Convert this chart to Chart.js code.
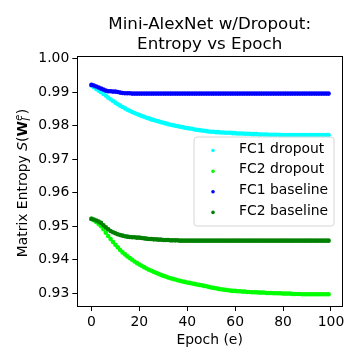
<!DOCTYPE html>
<html><head><meta charset="utf-8">
<script src="https://cdn.jsdelivr.net/npm/chart.js@4/dist/chart.umd.min.js"></script>
<style>html,body{margin:0;padding:0;background:#fff}#wrap{width:360px;height:360px}</style>
</head><body><div id="wrap"><canvas id="c" width="360" height="360"></canvas></div>
<script>
const titleLines = ['Mini-AlexNet w/Dropout:', 'Entropy vs Epoch'];
const xLabel = 'Epoch (e)';
const seriesNames = ['FC1 dropout', 'FC2 dropout', 'FC1 baseline', 'FC2 baseline'];
const seriesColors = ['#00ffff', '#00ff00', '#0000ff', '#008000'];
const xTicks = [0, 20, 40, 60, 80, 100];
const yTicks = [0.93, 0.94, 0.95, 0.96, 0.97, 0.98, 0.99, 1.00];

const fc1Dropout = [
.9920,.9915,.9910,.9905,.9900,.9895,.9890,.9884,.9879,.9874,
.9869,.9864,.9860,.9856,.9852,.9848,.9845,.9841,.9838,.9835,
.9832,.9829,.9827,.9824,.9822,.9819,.9817,.9815,.9813,.9811,
.9809,.9807,.9805,.9803,.9802,.9800,.9799,.9797,.9796,.9794,
.9793,.9792,.9791,.9789,.9788,.9787,.9786,.9785,.9784,.9783,
.9782,.9782,.9781,.9781,.9780,.9780,.9779,.9779,.9779,.9778,
.9778,.9777,.9777,.9777,.9776,.9776,.9776,.9775,.9775,.9775,
.9774,.9774,.9774,.9774,.9773,.9773,.9773,.9773,.9773,.9772,
.9772,.9772,.9772,.9772,.9772,.9772,.9772,.9772,.9772,.9772,
.9772,.9772,.9772,.9772,.9772,.9772,.9772,.9772,.9772,.9772];

const fc2Dropout = [
.9522,.9518,.9513,.9507,.9500,.9491,.9481,.9471,.9462,.9453,
.9445,.9437,.9429,.9422,.9416,.9410,.9405,.9400,.9395,.9390,
.9386,.9382,.9378,.9374,.9370,.9367,.9364,.9361,.9358,.9355,
.9352,.9350,.9347,.9345,.9343,.9341,.9339,.9337,.9335,.9334,
.9332,.9331,.9329,.9328,.9326,.9325,.9324,.9322,.9321,.9319,
.9317,.9316,.9315,.9313,.9312,.9311,.9310,.9309,.9308,.9307,
.9307,.9306,.9306,.9305,.9305,.9304,.9304,.9303,.9303,.9303,
.9302,.9302,.9302,.9301,.9301,.9301,.9300,.9300,.9300,.9300,
.9299,.9299,.9299,.9299,.9298,.9298,.9298,.9298,.9297,.9297,
.9297,.9297,.9297,.9297,.9297,.9297,.9297,.9297,.9297,.9297];

const fc1Baseline = [
.9922,.9920,.9917,.9914,.9911,.9908,.9905,.9903,.9903,.9902,
.9902,.9901,.9899,.9898,.9897,.9897,.9897,.9896,.9896,.9896,
.9896,.9896,.9896,.9896,.9896,.9896,.9896,.9896,.9896,.9896,
.9896,.9896,.9896,.9896,.9896,.9896,.9896,.9896,.9896,.9896,
.9896,.9896,.9896,.9896,.9896,.9896,.9896,.9896,.9896,.9896,
.9896,.9896,.9896,.9896,.9896,.9896,.9896,.9896,.9896,.9896,
.9896,.9896,.9896,.9896,.9896,.9896,.9896,.9896,.9896,.9896,
.9896,.9896,.9896,.9896,.9896,.9896,.9896,.9896,.9896,.9896,
.9896,.9896,.9896,.9896,.9896,.9896,.9896,.9896,.9896,.9896,
.9896,.9896,.9896,.9896,.9896,.9896,.9896,.9896,.9896,.9896];

const fc2Baseline = [
.9522,.9520,.9517,.9514,.9510,.9503,.9497,.9491,.9486,.9482,
.9479,.9476,.9474,.9472,.9470,.9469,.9468,.9467,.9467,.9466,
.9466,.9465,.9464,.9463,.9462,.9462,.9461,.9461,.9460,.9460,
.9459,.9459,.9459,.9458,.9458,.9458,.9458,.9457,.9457,.9457,
.9457,.9457,.9457,.9457,.9457,.9457,.9457,.9457,.9457,.9457,
.9457,.9457,.9457,.9457,.9457,.9457,.9457,.9457,.9457,.9457,
.9457,.9457,.9457,.9457,.9457,.9457,.9457,.9457,.9457,.9457,
.9457,.9457,.9457,.9457,.9457,.9457,.9457,.9457,.9457,.9457,
.9457,.9457,.9457,.9457,.9457,.9457,.9457,.9457,.9457,.9457,
.9457,.9457,.9457,.9457,.9457,.9457,.9457,.9457,.9457,.9457];

const allSeries = [fc1Dropout, fc2Dropout, fc1Baseline, fc2Baseline];
const FONT = "'DejaVu Sans'";
Chart.defaults.font.family = FONT;
Chart.defaults.font.size = 13.9;
Chart.defaults.color = '#000';

const datasets = allSeries.map((vals, k) => ({
  label: seriesNames[k],
  data: vals.map((v, i) => ({x: i, y: v})),
  backgroundColor: seriesColors[k],
  borderColor: seriesColors[k],
  pointRadius: 2.3,
  pointBorderWidth: 0,
  showLine: false,
  order: k < 2 ? 1 : 0
}));

const framePlugin = {
  id: 'frame',
  afterDraw(chart) {
    const a = chart.chartArea, ctx = chart.ctx;
    ctx.save();
    ctx.strokeStyle = '#000'; ctx.lineWidth = 1;
    ctx.strokeRect(Math.round(a.left) + 0.5, Math.round(a.top) + 0.5,
      Math.round(a.right - a.left), Math.round(a.bottom - a.top));
    ctx.restore();
  }
};

const ylabelPlugin = {
  id: 'ylabel',
  afterDraw(chart) {
    const ctx = chart.ctx;
    const s = 13.9, ss = 9.7;
    const segs = [
      {t: 'Matrix Entropy ', f: `${s}px ${FONT}`},
      {t: 'S', f: `italic ${s}px ${FONT}`},
      {t: '(', f: `${s}px ${FONT}`},
      {t: 'W', f: `bold ${s}px ${FONT}`},
      {stack: [{t: 'e', f: `italic ${ss}px ${FONT}`, dy: -5.5}, {t: 'l', f: `italic ${ss}px ${FONT}`, dy: 3}]},
      {t: ')', f: `${s}px ${FONT}`}
    ];
    ctx.save();
    const widths = segs.map(g => {
      if (g.stack) return Math.max(...g.stack.map(h => { ctx.font = h.f; return ctx.measureText(h.t).width; })) + 1;
      ctx.font = g.f; return ctx.measureText(g.t).width;
    });
    const total = widths.reduce((a, b) => a + b, 0);
    const cy = (chart.chartArea.top + chart.chartArea.bottom) / 2 + 2;
    ctx.translate(27, cy);
    ctx.rotate(-Math.PI / 2);
    ctx.fillStyle = '#000';
    ctx.textBaseline = 'alphabetic';
    ctx.textAlign = 'left';
    let x = -total / 2;
    segs.forEach((g, i) => {
      if (g.stack) {
        g.stack.forEach(h => { ctx.font = h.f; ctx.fillText(h.t, x + 0.5, h.dy); });
      } else {
        ctx.font = g.f; ctx.fillText(g.t, x, 0);
      }
      x += widths[i];
    });
    ctx.restore();
  }
};

const legendPlugin = {
  id: 'customLegend',
  afterDraw(chart) {
    const ctx = chart.ctx;
    const bx = 194, by = 137, bw = 140, bh = 89, r = 3;
    ctx.save();
    ctx.beginPath();
    ctx.moveTo(bx + r, by);
    ctx.arcTo(bx + bw, by, bx + bw, by + bh, r);
    ctx.arcTo(bx + bw, by + bh, bx, by + bh, r);
    ctx.arcTo(bx, by + bh, bx, by, r);
    ctx.arcTo(bx, by, bx + bw, by, r);
    ctx.closePath();
    ctx.fillStyle = 'rgba(255,255,255,0.8)';
    ctx.fill();
    ctx.strokeStyle = '#d6d6d6';
    ctx.lineWidth = 1;
    ctx.stroke();
    const rows = [150.5, 171.2, 191.8, 212.4];
    seriesNames.forEach((name, k) => {
      ctx.beginPath();
      ctx.arc(213, rows[k], 1.8, 0, Math.PI * 2);
      ctx.fillStyle = seriesColors[k];
      ctx.fill();
      ctx.fillStyle = '#000';
      ctx.font = `13.9px ${FONT}`;
      ctx.textBaseline = 'middle';
      ctx.textAlign = 'left';
      ctx.fillText(name, 239, rows[k] - 1.5);
    });
    ctx.restore();
  }
};

new Chart(document.getElementById('c'), {
  type: 'scatter',
  data: {datasets},
  options: {
    responsive: false,
    animation: false,
    devicePixelRatio: 1,
    layout: {padding: {left: 0, right: 18, top: 0, bottom: 0}},
    plugins: {
      legend: {display: false},
      tooltip: {enabled: false},
      title: {
        display: true,
        fullSize: false,
        text: titleLines,
        font: {size: 16.7, weight: 'normal', family: FONT},
        color: '#000',
        padding: {top: 15, bottom: 1}
      }
    },
    scales: {
      x: {
        type: 'linear',
        min: -5.9, max: 104.6,
        afterBuildTicks: s => { s.ticks = xTicks.map(v => ({value: v})); },
        afterFit: s => { s.height = 54; },
        ticks: {padding: 3, color: '#000', font: {size: 13.9}},
        grid: {drawOnChartArea: false, drawTicks: true, tickLength: 5, tickColor: '#000', tickWidth: 1},
        border: {display: true, color: '#000', width: 1},
        title: {display: true, text: xLabel, color: '#000', font: {size: 13.9}, padding: {top: 11.5, bottom: 11.5}}
      },
      y: {
        type: 'linear',
        min: 0.9262, max: 1.0008,
        afterBuildTicks: s => { s.ticks = yTicks.map(v => ({value: v})); },
        afterFit: s => { s.width = 77.3; },
        ticks: {padding: 3, color: '#000', font: {size: 13.9}, callback: v => v.toFixed(2)},
        grid: {drawOnChartArea: false, drawTicks: true, tickLength: 5, tickColor: '#000', tickWidth: 1},
        border: {display: true, color: '#000', width: 1}
      }
    }
  },
  plugins: [framePlugin, ylabelPlugin, legendPlugin]
});
</script>
</body></html>
